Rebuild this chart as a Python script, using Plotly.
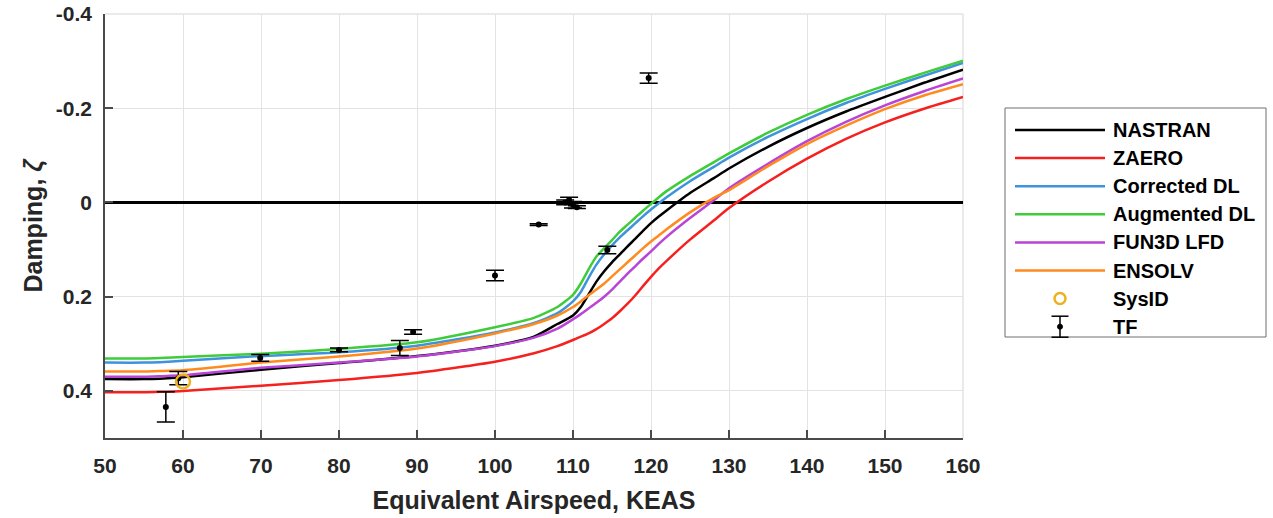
import plotly.graph_objects as go

# ---------------- data ----------------
speed = [50, 55, 57, 60, 70, 80, 90, 100, 105, 108, 110, 111, 112, 113, 114, 115, 116,
         117, 118, 119, 120, 121, 122, 125, 128, 130, 135, 140, 145, 150, 155, 160]

nastran = [0.375, 0.375, 0.374, 0.371, 0.355, 0.341, 0.326, 0.304, 0.285, 0.258, 0.240,
           0.222, 0.195, 0.168, 0.146, 0.127, 0.110, 0.093, 0.077, 0.060, 0.044, 0.030,
           0.017, -0.020, -0.051, -0.072, -0.118, -0.158, -0.193, -0.224, -0.254, -0.282]
zaero = [0.403, 0.403, 0.402, 0.400, 0.389, 0.377, 0.362, 0.338, 0.320, 0.305, 0.292,
         0.285, 0.278, 0.269, 0.258, 0.246, 0.231, 0.215, 0.197, 0.177, 0.158, 0.140,
         0.124, 0.079, 0.039, 0.012, -0.044, -0.093, -0.135, -0.170, -0.199, -0.224]
corrected_dl = [0.340, 0.340, 0.339, 0.336, 0.326, 0.318, 0.304, 0.276, 0.256, 0.235,
                0.210, 0.190, 0.160, 0.132, 0.110, 0.091, 0.074, 0.059, 0.044, 0.029,
                0.015, 0.002, -0.011, -0.045, -0.075, -0.095, -0.139, -0.177, -0.211,
                -0.241, -0.269, -0.296]
augmented_dl = [0.331, 0.331, 0.330, 0.328, 0.321, 0.311, 0.297, 0.265, 0.245, 0.222,
                0.196, 0.172, 0.142, 0.115, 0.097, 0.080, 0.062, 0.047, 0.032, 0.017,
                0.003, -0.011, -0.024, -0.056, -0.085, -0.104, -0.148, -0.186, -0.219,
                -0.248, -0.275, -0.301]
fun3d_lfd = [0.370, 0.370, 0.369, 0.367, 0.351, 0.340, 0.327, 0.305, 0.287, 0.268, 0.248,
             0.237, 0.225, 0.213, 0.200, 0.185, 0.168, 0.151, 0.135, 0.119, 0.104, 0.088,
             0.073, 0.033, -0.004, -0.030, -0.082, -0.130, -0.171, -0.206, -0.236, -0.263]
ensolv = [0.359, 0.359, 0.358, 0.356, 0.340, 0.327, 0.310, 0.278, 0.258, 0.240, 0.222,
          0.210, 0.197, 0.185, 0.172, 0.157, 0.142, 0.127, 0.112, 0.097, 0.083, 0.070,
          0.057, 0.021, -0.009, -0.026, -0.077, -0.124, -0.163, -0.198, -0.227, -0.251]

sysid_speed = [60.0]
sysid_damping = [0.380]

tf_speed = [57.8, 59.4, 69.9, 80.0, 87.8, 89.5, 100.0, 105.6, 109.0, 109.5, 110.0, 110.5, 114.4, 119.7]
tf_damping = [0.434, 0.373, 0.330, 0.313, 0.309, 0.275, 0.155, 0.047, 0.000, -0.005, 0.005, 0.010, 0.101, -0.264]
tf_error = [0.032, 0.014, 0.007, 0.004, 0.016, 0.005, 0.011, 0.002, 0.005, 0.006, 0.007, 0.003, 0.008, 0.011]

x_tick_vals = [50, 60, 70, 80, 90, 100, 110, 120, 130, 140, 150, 160]
x_tick_text = ["50", "60", "70", "80", "90", "100", "110", "120", "130", "140", "150", "160"]
y_tick_vals = [-0.4, -0.2, 0, 0.2, 0.4]
y_tick_text = ["-0.4", "-0.2", "0", "0.2", "0.4"]

series = [
    ("NASTRAN", nastran, "#000000"),
    ("ZAERO", zaero, "#F5211F"),
    ("Corrected DL", corrected_dl, "#3D93DC"),
    ("Augmented DL", augmented_dl, "#3FCB3A"),
    ("FUN3D LFD", fun3d_lfd, "#B944D6"),
    ("ENSOLV", ensolv, "#FF8A1E"),
]
SYSID_COLOR = "#EDB120"

# ---------------- layout geometry ----------------
W, H = 1273, 518
PLOT_L, PLOT_R, PLOT_T, PLOT_B = 105, 963, 14, 438
FONT = "Liberation Sans, Arial, Helvetica, sans-serif"


def px_x(p):
    return (p - PLOT_L) / (PLOT_R - PLOT_L)


def px_y(p):
    return (PLOT_B - p) / (PLOT_B - PLOT_T)


fig = go.Figure()

# zero-damping reference line
fig.add_trace(go.Scatter(x=[50, 160], y=[0, 0], mode="lines",
                         line=dict(color="#000000", width=3), showlegend=False,
                         hoverinfo="skip"))

for name, values, color in series:
    fig.add_trace(go.Scatter(x=speed, y=values, mode="lines", name=name,
                             line=dict(color=color, width=2.5, shape="spline", smoothing=0.6),
                             showlegend=False))

fig.add_trace(go.Scatter(x=tf_speed, y=tf_damping, mode="markers", name="TF",
                         marker=dict(color="#000000", size=6),
                         error_y=dict(type="data", array=tf_error, visible=True,
                                      color="#000000", thickness=1.5, width=9),
                         showlegend=False))

fig.add_trace(go.Scatter(x=sysid_speed, y=sysid_damping, mode="markers", name="SysID",
                         marker=dict(symbol="circle-open", size=14, color=SYSID_COLOR,
                                     line=dict(width=2.5, color=SYSID_COLOR)),
                         showlegend=False))

# ---------------- legend box ----------------
shapes = []
annotations = []

# faint box edges on top/right of the axes
shapes.append(dict(type="line", xref="paper", yref="paper", x0=0, x1=1, y0=1, y1=1,
                   line=dict(color="#E3E3E3", width=1.5), layer="below"))
shapes.append(dict(type="line", xref="paper", yref="paper", x0=1, x1=1, y0=0, y1=1,
                   line=dict(color="#E3E3E3", width=1.5), layer="below"))

LEG_L, LEG_R, LEG_T, LEG_B = 1005, 1266, 108, 337
shapes.append(dict(type="rect", xref="paper", yref="paper",
                   x0=px_x(LEG_L), x1=px_x(LEG_R), y0=px_y(LEG_B), y1=px_y(LEG_T),
                   line=dict(color="#6E6E6E", width=1), fillcolor="white", layer="above"))

row_y0, row_step = 130, 28.1
sym_l, sym_r, sym_c, text_x = 1015, 1105, 1060, 1111
legend_rows = [(n, c, "line") for n, _, c in series] + [("SysID", SYSID_COLOR, "circle"),
                                                        ("TF", "#000000", "errorbar")]
for i, (name, color, kind) in enumerate(legend_rows):
    cy = row_y0 + i * row_step
    if kind == "line":
        shapes.append(dict(type="line", xref="paper", yref="paper",
                           x0=px_x(sym_l), x1=px_x(sym_r), y0=px_y(cy), y1=px_y(cy),
                           line=dict(color=color, width=2.5), layer="above"))
    elif kind == "circle":
        r = 5.5
        shapes.append(dict(type="circle", xref="paper", yref="paper",
                           x0=px_x(sym_c - r), x1=px_x(sym_c + r),
                           y0=px_y(cy + r), y1=px_y(cy - r),
                           line=dict(color=color, width=2.5), layer="above"))
    else:
        half, cap = 10.5, 8.5
        shapes.append(dict(type="line", xref="paper", yref="paper",
                           x0=px_x(sym_c), x1=px_x(sym_c), y0=px_y(cy + half), y1=px_y(cy - half),
                           line=dict(color=color, width=1.5), layer="above"))
        for yy in (cy - half, cy + half):
            shapes.append(dict(type="line", xref="paper", yref="paper",
                               x0=px_x(sym_c - cap), x1=px_x(sym_c + cap), y0=px_y(yy), y1=px_y(yy),
                               line=dict(color=color, width=1.5), layer="above"))
        rd = 2.5
        shapes.append(dict(type="circle", xref="paper", yref="paper",
                           x0=px_x(sym_c - rd), x1=px_x(sym_c + rd),
                           y0=px_y(cy + rd), y1=px_y(cy - rd),
                           line=dict(color=color, width=1), fillcolor=color, layer="above"))
    annotations.append(dict(xref="paper", yref="paper", x=px_x(text_x), y=px_y(cy),
                            xanchor="left", yanchor="middle", showarrow=False, text=name,
                            font=dict(family=FONT, size=20, color="#000000", weight="bold")))

axis_common = dict(
    showgrid=True, gridcolor="#E3E3E3", gridwidth=1.2,
    showline=True, linecolor="#4A4A4A", linewidth=1.5,
    ticks="inside", ticklen=8, tickwidth=1.5, tickcolor="#4A4A4A",
    zeroline=False,
    tickfont=dict(family=FONT, size=21, color="#262626", weight="bold"),
)

fig.update_layout(
    width=W, height=H,
    margin=dict(l=PLOT_L, r=W - PLOT_R, t=PLOT_T, b=H - PLOT_B, autoexpand=False),
    paper_bgcolor="white", plot_bgcolor="white",
    showlegend=False,
    shapes=shapes, annotations=annotations,
    xaxis=dict(range=[50, 160], tickmode="array", tickvals=x_tick_vals, ticktext=x_tick_text,
               ticklabelstandoff=8,
               title=dict(text="Equivalent Airspeed, KEAS", standoff=16,
                          font=dict(family=FONT, size=25, color="#262626", weight="bold")),
               **axis_common),
    yaxis=dict(range=[0.5, -0.4], tickmode="array", tickvals=y_tick_vals, ticktext=y_tick_text,
               ticklabelstandoff=7,
               title=dict(text="Damping, <i>ζ</i>", standoff=6,
                          font=dict(family=FONT, size=25, color="#262626", weight="bold")),
               **axis_common),
)

fig.write_html("out.html")
